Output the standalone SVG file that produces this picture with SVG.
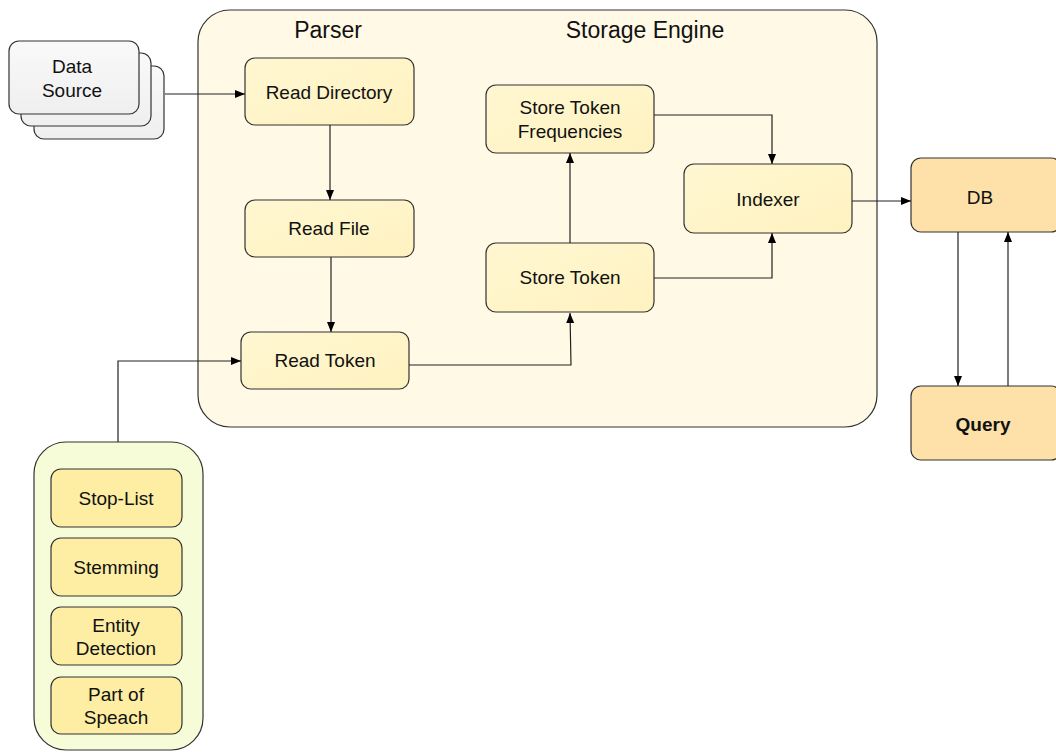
<svg xmlns="http://www.w3.org/2000/svg" width="1056" height="753" viewBox="0 0 1056 753">
  <defs>
    <marker id="arrow" viewBox="0 0 10 10" refX="10" refY="5" markerWidth="10" markerHeight="10" markerUnits="userSpaceOnUse" orient="auto">
      <path d="M0,1 L10,5 L0,9 z" fill="#000"/>
    </marker>
    <linearGradient id="gStep" x1="0" y1="0" x2="1" y2="1">
      <stop offset="0" stop-color="#fff7d2"/>
      <stop offset="1" stop-color="#fff2c0"/>
    </linearGradient>
    <linearGradient id="gSrc" x1="0" y1="0" x2="0" y2="1">
      <stop offset="0" stop-color="#f9f9f9"/>
      <stop offset="1" stop-color="#efefef"/>
    </linearGradient>
  </defs>
  <style>
    .txt { font-family: "Liberation Sans", Arial, Helvetica, sans-serif; font-size: 19px; fill: #111; text-anchor: middle; dominant-baseline: central; }
    .title { font-size: 23px; }
    .bold { font-weight: bold; }
    .box { stroke: #333; stroke-width: 1.2; }
    .step { fill: url(#gStep); }
    .filter { fill: #fdeea3; }
    .store { fill: #fde1a8; }
    .src { fill: url(#gSrc); }
    .wire { fill: none; stroke: #222; stroke-width: 1.2; marker-end: url(#arrow); }
  </style>

  <!-- containers -->
  <g id="pipeline">
    <rect class="box" x="198" y="10" width="679" height="417" rx="32" fill="#fff9e6"/>
    <text class="txt title" x="328" y="30">Parser</text>
    <text class="txt title" x="645" y="30">Storage Engine</text>
  </g>
  <g id="token-filters">
    <rect class="box" x="34" y="442" width="169" height="308" rx="32" fill="#f6fcd8"/>
  </g>

  <!-- stacked data sources -->
  <g id="data-source">
    <rect class="box src" x="34" y="66" width="130" height="73" rx="10"/>
    <rect class="box src" x="21" y="53" width="130" height="73" rx="10"/>
    <rect class="box src" x="9" y="41" width="130" height="73" rx="10"/>
    <text class="txt" x="72" y="66">Data</text>
    <text class="txt" x="72" y="90">Source</text>
  </g>

  <!-- parser steps -->
  <g id="read-directory">
    <rect class="box step" x="245" y="58" width="169" height="67" rx="10"/>
    <text class="txt" x="329" y="92">Read Directory</text>
  </g>
  <g id="read-file">
    <rect class="box step" x="245" y="200" width="169" height="57" rx="10"/>
    <text class="txt" x="329" y="228">Read File</text>
  </g>
  <g id="read-token">
    <rect class="box step" x="241" y="332" width="168" height="57" rx="10"/>
    <text class="txt" x="325" y="360">Read Token</text>
  </g>

  <!-- storage engine steps -->
  <g id="store-token-frequencies">
    <rect class="box step" x="486" y="85" width="168" height="68" rx="10"/>
    <text class="txt" x="570" y="107">Store Token</text>
    <text class="txt" x="570" y="131">Frequencies</text>
  </g>
  <g id="store-token">
    <rect class="box step" x="486" y="243" width="168" height="69" rx="10"/>
    <text class="txt" x="570" y="277">Store Token</text>
  </g>
  <g id="indexer">
    <rect class="box step" x="684" y="164" width="168" height="69" rx="10"/>
    <text class="txt" x="768" y="199">Indexer</text>
  </g>

  <!-- storage and query -->
  <g id="db">
    <rect class="box store" x="911" y="158" width="150" height="74" rx="10"/>
    <text class="txt" x="980" y="197">DB</text>
  </g>
  <g id="query">
    <rect class="box store" x="911" y="386" width="150" height="74" rx="10"/>
    <text class="txt bold" x="983" y="424">Query</text>
  </g>

  <!-- token filters -->
  <g id="stop-list">
    <rect class="box filter" x="51" y="469" width="131" height="58" rx="10"/>
    <text class="txt" x="116" y="498">Stop-List</text>
  </g>
  <g id="stemming">
    <rect class="box filter" x="51" y="538" width="131" height="58" rx="10"/>
    <text class="txt" x="116" y="567">Stemming</text>
  </g>
  <g id="entity-detection">
    <rect class="box filter" x="51" y="607" width="131" height="58" rx="10"/>
    <text class="txt" x="116" y="625">Entity</text>
    <text class="txt" x="116" y="648">Detection</text>
  </g>
  <g id="part-of-speach">
    <rect class="box filter" x="51" y="677" width="131" height="57" rx="10"/>
    <text class="txt" x="116" y="694">Part of</text>
    <text class="txt" x="116" y="717">Speach</text>
  </g>

  <!-- connectors -->
  <g id="connectors">
    <path class="wire" d="M165,94 H245"/>
    <path class="wire" d="M330,125 V200"/>
    <path class="wire" d="M331,257 V332"/>
    <path class="wire" d="M118,442 V361 H241"/>
    <path class="wire" d="M409,365 H571 L570,313"/>
    <path class="wire" d="M570,243 V153"/>
    <path class="wire" d="M654,115 H772 V164"/>
    <path class="wire" d="M654,278 H772 V233"/>
    <path class="wire" d="M852,201 H911"/>
    <path class="wire" d="M958,232 V386"/>
    <path class="wire" d="M1008,386 V232"/>
  </g>
</svg>
